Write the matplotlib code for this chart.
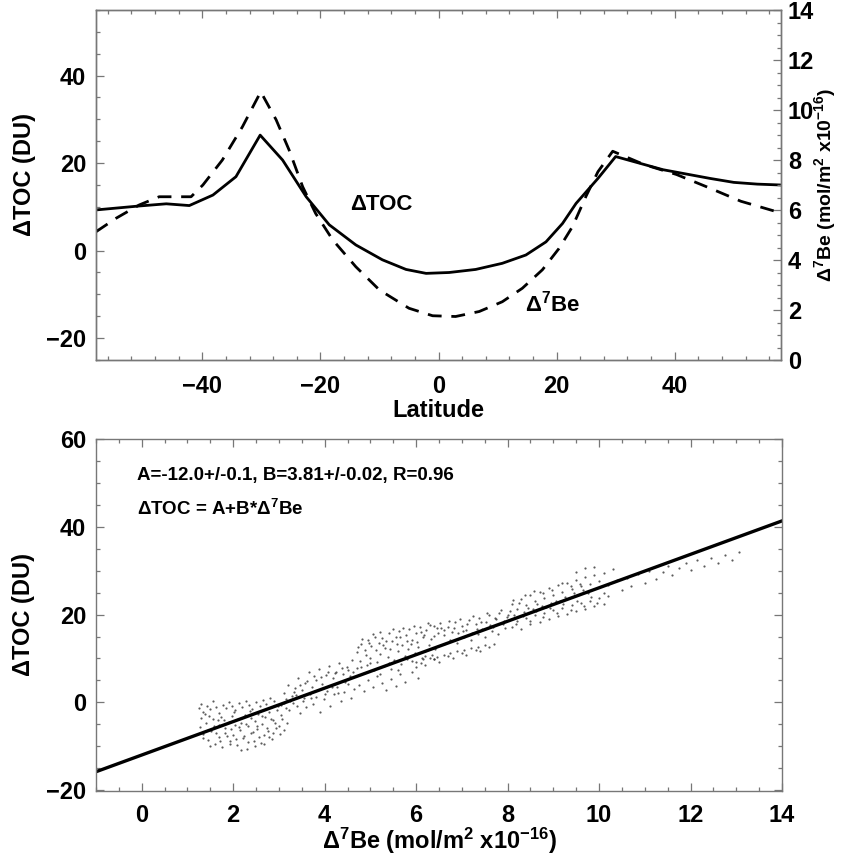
import matplotlib
matplotlib.use("Agg")
import matplotlib.pyplot as plt
from matplotlib.ticker import MultipleLocator

plt.rcParams['font.family'] = ['Liberation Sans', 'DejaVu Sans']
plt.rcParams['font.weight'] = 'bold'
plt.rcParams['axes.labelweight'] = 'bold'
plt.rcParams['mathtext.fontset'] = 'custom'
plt.rcParams['mathtext.rm'] = 'Liberation Sans:bold'
plt.rcParams['mathtext.default'] = 'rm'

# ---------------- data: top panel ----------------
lat_toc = [-58, -50.7, -46.1, -42.2, -38.2, -34.3, -30.2, -26.4, -22.4, -18.5, -14.0, -9.5, -5.5, -2.1, 1.8,
           6.3, 10.8, 14.8, 18.2, 21.0, 23.3, 27, 30, 34, 38, 42, 46, 50, 54, 58]
toc = [9.3, 10.2, 10.7, 10.3, 12.7, 16.9, 26.4, 20.7, 12.3, 5.9, 1.3, -2.1, -4.3, -5.2, -5.0,
       -4.3, -2.9, -1.0, 2.0, 6.2, 10.8, 16.5, 21.5, 20.0, 18.5, 17.5, 16.5, 15.6, 15.2, 15.0]

lat_be = [-58, -54.6, -50.7, -47.3, -41.9, -39.9, -36.6, -33.2, -30.1, -27.5, -25.3, -23.0, -20.8,
          -17.9, -14.0, -10.0, -5.0, -1.0, 2.9, 6.9, 10.8, 14.2, 17.6, 20.4, 22.7, 25.0, 27.0, 29.5,
          34.8, 40.3, 45.7, 51.2, 58]
be = [5.13, 5.67, 6.2, 6.53, 6.53, 7.0, 8.0, 9.33, 10.73, 9.61, 8.4, 6.93, 5.86,
      4.8, 3.73, 2.8, 2.07, 1.77, 1.74, 1.94, 2.33, 2.87, 3.61, 4.46, 5.34, 6.56, 7.53, 8.35,
      7.82, 7.42, 6.9, 6.35, 5.88]

lat_ticks = [-40, -20, 0, 20, 40]
toc_ticks_top = [-20, 0, 20, 40]
be_ticks = [0, 2, 4, 6, 8, 10, 12, 14]

# ---------------- data: bottom panel ----------------
fit_A = -12.0
fit_B = 3.81
fit_text = "A=-12.0+/-0.1, B=3.81+/-0.02, R=0.96"

scat_be = [
    1.25, 1.3, 1.35, 1.42, 1.5, 1.55, 1.62, 1.7, 1.78, 1.85, 1.9, 1.98, 2.05, 2.12, 2.2, 2.28, 2.35, 2.42, 2.5, 2.58, 2.65, 2.72, 2.8, 2.9,
    1.3, 1.4, 1.48, 1.58, 1.66, 1.74, 1.82, 1.9, 1.97, 2.04, 2.1, 2.18, 2.25, 2.33, 2.4, 2.48, 2.55, 2.62, 2.7, 2.78, 2.86, 2.95, 3.05, 3.15,
    1.35, 1.45, 1.52, 1.6, 1.68, 1.75, 1.83, 1.92, 2.0, 2.08, 2.15, 2.22, 2.3, 2.38, 2.45, 2.52, 2.6, 2.68, 2.76, 2.85, 2.94, 3.02, 3.1,
    1.28, 1.33, 1.38, 1.44, 1.5, 1.56, 1.63, 1.69, 1.72, 1.8, 1.86, 1.93, 1.96, 2.02, 2.07, 2.13, 2.17, 2.24, 2.27, 2.32, 2.37, 2.43, 2.47,
    2.53, 2.57, 2.63, 2.67, 2.73, 2.79, 2.83, 2.88, 2.92, 2.98, 3.0, 3.07, 3.12, 3.18,
    3.1, 3.2, 3.28, 3.35, 3.42, 3.5, 3.58, 3.65, 3.72, 3.8, 3.88, 3.95, 4.02, 4.1, 4.18, 4.25, 4.32, 4.4, 4.48, 4.55,
    3.05, 3.15, 3.22, 3.3, 3.38, 3.45, 3.52, 3.6, 3.68, 3.75, 3.82, 3.9, 3.98, 4.05, 4.12, 4.2, 4.28, 4.35, 4.42, 4.5, 4.58, 4.65,
    3.25, 3.33, 3.4, 3.47, 3.55, 3.62, 3.7, 3.77, 3.85, 3.92, 4.0, 4.07, 4.15, 4.22, 4.3, 4.37, 4.45, 4.52, 4.6, 4.62,
    4.7, 4.8, 4.88, 4.95, 5.02, 5.1, 5.18, 5.25, 5.32, 5.4, 5.48, 5.55, 5.62, 5.7, 5.78, 5.85, 5.92, 6.0, 6.08, 6.15, 6.22, 6.3, 6.38, 6.45, 6.52,
    4.7, 4.78, 4.85, 4.92, 5.0, 5.08, 5.15, 5.22, 5.3, 5.38, 5.45, 5.52, 5.6, 5.68, 5.75, 5.82, 5.9, 5.98, 6.05, 6.12, 6.2, 6.28, 6.35, 6.42,
    4.75, 4.85, 4.95, 5.05, 5.15, 5.25, 5.35, 5.45, 5.55, 5.65, 5.75, 5.9, 6.05,
    4.72, 4.82, 4.9, 4.98, 5.05, 5.12, 5.2, 5.28, 5.35, 5.42, 5.5, 5.58, 5.65, 5.72, 5.8, 5.88, 5.95, 6.02, 6.1, 6.18, 6.25, 6.33, 6.4, 6.48, 6.55,
    4.8, 5.0, 5.2, 5.4, 5.6, 5.8, 6.0, 6.2, 6.4,
    6.0, 6.15, 6.3, 6.45, 6.6, 6.75, 6.9, 7.05, 7.2, 7.35, 7.5, 6.2, 6.5, 6.8, 7.1, 7.4,
    6.6, 6.7, 6.78, 6.85, 6.92, 7.0, 7.08, 7.15, 7.22, 7.3, 7.38, 7.45, 7.52, 7.6, 7.68, 7.75, 7.82, 7.9, 7.98, 8.05,
    6.6, 6.75, 6.9, 7.05, 7.2, 7.35, 7.5, 7.65, 7.8, 7.95,
    6.62, 6.72, 6.82, 6.95, 7.02, 7.12, 7.25, 7.32, 7.42, 7.55, 7.62, 7.72, 7.85, 7.92, 8.0,
    6.1, 6.4, 6.7, 7.0, 7.3, 7.6, 7.7,
    8.1, 8.2, 8.3, 8.4, 8.5, 8.6, 8.7, 8.8, 8.9, 9.0, 9.1, 9.2, 9.3, 9.4, 9.5, 9.6, 9.7, 9.8, 9.9, 10.0,
    8.1, 8.2, 8.3, 8.4, 8.5, 8.6, 8.7, 8.8, 8.9, 9.0, 9.1, 9.2, 9.3, 9.4, 9.5, 9.6, 9.7, 9.8, 9.9, 10.0, 10.1, 10.2,
    8.15, 8.35, 8.55, 8.75, 8.95, 9.15, 9.35, 9.55, 9.75,
    8.12, 8.25, 8.38, 8.45, 8.58, 8.65, 8.78, 8.85, 8.98, 9.05, 9.18, 9.25, 9.38, 9.45, 9.58, 9.65,
    8.18, 8.33, 8.48, 8.62, 8.78, 8.92, 9.08, 9.22, 9.38, 9.52, 9.68, 9.82, 9.95, 10.1,
    10.1, 10.3, 10.2, 10.4, 10.5, 10.6, 10.7, 10.85, 11.0, 11.1, 11.25, 11.4, 11.5, 11.6, 11.75, 11.9, 12.0, 12.15, 12.3, 12.45, 12.6, 12.75, 12.9, 13.05, 9.5, 9.7, 9.9,
]
scat_toc = [
    -1.2, -0.4, -2.1, -0.8, -1.6, 0.2, -1.0, -2.4, -0.5, -1.3, 0.1, -0.9, -1.7, -0.2, -1.1, 0.4, -0.6, -1.5, 0.0, -0.8, 0.6, -0.3, 1.0, 0.3,
    -3.5, -4.8, -3.0, -5.5, -4.1, -3.3, -5.9, -4.4, -3.1, -5.2, -3.8, -4.6, -2.9, -5.4, -3.6, -4.3, -2.7, -5.0, -3.4, -2.2, -4.0, -1.8, -2.9, -1.4,
    -7.2, -8.6, -6.5, -9.4, -7.8, -10.2, -6.9, -8.9, -7.4, -9.8, -6.3, -8.1, -10.6, -7.0, -8.7, -6.1, -9.2, -7.5, -6.6, -8.3, -5.9, -7.1, -6.2,
    -5.6, -8.1, -2.7, -6.2, -9.9, -3.9, -7.0, -5.1, -8.8, -4.0, -7.6, -9.5, -6.0, -2.3, -8.4, -5.7, -10.9, -7.7, -4.9, -9.0, -2.0, -6.8, -10.0,
    -5.3, -7.9, -3.2, -9.6, -5.8, -8.0, -3.7, -6.9, -4.6, -0.9, -5.4, -3.9, -0.1, -4.6,
    2.1, 4.0, 1.5, 3.2, 5.6, 2.7, 4.4, 6.8, 3.6, 5.1, 7.5, 4.2, 6.2, 8.3, 5.5, 7.0, 9.0, 6.4, 8.1, 5.9,
    -0.5, 0.8, -1.8, -0.2, 1.6, -2.5, 0.4, -1.1, 2.0, -0.4, 1.2, -2.2, 0.7, 2.6, -0.9, 1.8, 3.5, 0.2, 2.4, 4.2, 1.1, 3.0,
    0.3, 2.4, -0.8, 3.9, 1.0, 4.9, 0.9, 6.0, 2.8, 5.7, 1.9, 7.0, 3.4, 6.6, 2.2, 7.8, 4.6, 7.3, 9.6, 6.8,
    11.5, 13.2, 12.0, 14.1, 12.8, 15.0, 13.5, 14.6, 12.4, 15.8, 13.9, 14.8, 16.3, 13.1, 15.4, 16.8, 14.2, 15.9, 17.2, 14.8, 16.4, 17.6, 15.2, 16.9, 18.0,
    7.8, 9.4, 6.6, 8.5, 10.2, 7.3, 9.1, 11.0, 8.2, 10.4, 7.6, 9.7, 11.6, 8.8, 10.5, 12.1, 9.4, 11.2, 12.6, 10.0, 11.8, 13.0, 10.7, 12.2,
    4.0, 2.5, 5.2, 3.6, 6.0, 4.4, 2.9, 5.4, 3.8, 6.5, 4.7, 7.0, 5.5,
    12.6, 14.4, 10.8, 13.6, 15.6, 11.9, 16.1, 13.0, 14.0, 12.1, 16.6, 13.4, 15.0, 17.0, 14.0, 13.3, 17.4, 13.8, 16.0, 15.4, 18.1, 14.4, 17.4, 15.7, 17.0,
    8.1, 8.9, 6.5, 9.0, 7.4, 9.9, 8.0, 10.6, 9.8,
    9.3, 9.8, 10.1, 10.4, 10.9, 11.2, 11.7, 12.0, 12.3, 12.7, 13.1, 8.6, 9.2, 10.2, 10.9, 11.6,
    15.3, 17.1, 16.0, 18.2, 15.7, 17.5, 16.4, 18.8, 15.9, 17.8, 19.3, 16.6, 18.4, 19.8, 17.2, 18.9, 20.3, 17.8, 19.5, 20.9,
    13.2, 14.1, 13.6, 15.0, 14.2, 15.6, 14.8, 16.3, 15.5, 17.0,
    16.4, 18.6, 17.0, 19.0, 16.2, 17.9, 19.6, 16.8, 18.2, 20.4, 17.6, 19.2, 21.0, 18.6, 20.0,
    9.0, 9.9, 10.6, 11.3, 12.0, 12.6, 13.4,
    22.5, 21.3, 23.6, 22.1, 24.5, 23.0, 25.2, 23.8, 26.0, 24.4, 26.8, 25.1, 27.3, 25.8, 27.9, 26.4, 28.5, 27.0, 29.1, 27.6,
    17.2, 18.6, 16.8, 19.2, 17.9, 19.8, 18.3, 20.4, 19.0, 21.0, 19.6, 21.5, 20.2, 22.1, 20.8, 22.6, 21.3, 23.2, 21.9, 23.7, 22.4, 24.2,
    19.8, 20.6, 21.2, 21.9, 22.6, 23.1, 23.8, 24.4, 25.0,
    23.4, 22.6, 24.4, 21.5, 25.3, 22.4, 24.9, 21.7, 25.7, 23.2, 27.2, 24.0, 26.5, 24.9, 27.0, 25.6,
    17.9, 19.7, 18.6, 20.9, 19.5, 21.4, 20.4, 22.4, 21.0, 23.0, 22.0, 24.0, 22.7, 24.8,
    29.5, 30.4, 26.8, 27.9, 25.6, 28.4, 26.5, 29.2, 27.3, 30.0, 28.1, 29.7, 31.0, 29.0, 30.5, 31.8, 30.2, 32.4, 31.1, 33.0, 31.8, 33.6, 32.5, 34.2, 29.8, 30.5, 30.9,
]

be_axis_ticks = [0, 2, 4, 6, 8, 10, 12, 14]
toc_ticks_bot = [-20, 0, 20, 40, 60]

# ---------------- figure ----------------
W, H = 842, 857
fig = plt.figure(figsize=(W / 100, H / 100), dpi=100)

def rect(l, r, t, b):
    return [l / W, 1 - b / H, (r - l) / W, (b - t) / H]

spine_col = '#777777'
tick_kw = dict(direction='in', color=spine_col, width=0.9)
LBL = 17

def style(ax):
    for s in ax.spines.values():
        s.set_color(spine_col)
        s.set_linewidth(1.0)

# top panel
ax1 = fig.add_axes(rect(96, 781, 10, 360))
ax1.plot(lat_toc, toc, color='black', lw=2.0, solid_joinstyle='round')
ax1.set_xlim(-58, 58)
ax1.set_ylim(-25, 55)
ax1.set_xticks(lat_ticks)
ax1.xaxis.set_minor_locator(MultipleLocator(4))
ax1.set_yticks(toc_ticks_top)
ax1.yaxis.set_minor_locator(MultipleLocator(5))
ax1.tick_params(which='major', length=6, labelsize=LBL, top=True, right=False, **tick_kw)
ax1.tick_params(which='minor', length=3, top=True, right=False, **tick_kw)
ax1.tick_params(axis='x', pad=11)
ax1.tick_params(axis='y', pad=7)
style(ax1)
ax1.set_xlabel('Latitude', fontsize=LBL)
ax1.xaxis.set_label_coords(0.5, -0.112)
ax1.set_ylabel('ΔTOC (DU)', fontsize=LBL, va='center')
ax1.yaxis.set_label_coords(-0.105, 0.53)
ax1.text(-9.7, 10.6, 'ΔTOC', fontsize=LBL - 1, ha='center', va='center')
ax1.text(19.4, -12, r'Δ$^{7}$Be', fontsize=LBL - 1, ha='center', va='center')

ax2 = ax1.twinx()
ax2.plot(lat_be, be, color='black', lw=2.0, dashes=(5, 3.5))
ax2.set_ylim(0, 14)
ax2.set_yticks(be_ticks)
ax2.yaxis.set_minor_locator(MultipleLocator(0.5))
ax2.tick_params(which='major', length=6, labelsize=LBL, pad=5, **tick_kw)
ax2.tick_params(which='minor', length=3, **tick_kw)
style(ax2)
ax2.set_ylabel(r'Δ$^{7}$Be (mol/m$^{2}$ x10$^{-16}$)', fontsize=14, rotation=90, va='center')
ax2.yaxis.set_label_coords(1.064, 0.5)

# bottom panel
ax3 = fig.add_axes(rect(96, 782, 439, 791))
ax3.scatter(scat_be, scat_toc, s=2.5, color='#333333', alpha=0.8, linewidths=0)
ax3.set_xlim(-1, 14)
ax3.set_ylim(-20.2, 60)
xl = ax3.get_xlim()
ax3.plot(list(xl), [fit_A + fit_B * v for v in xl], color='black', lw=2.4)
ax3.set_xlim(xl)
ax3.set_xticks(be_axis_ticks)
ax3.xaxis.set_minor_locator(MultipleLocator(0.5))
ax3.set_yticks(toc_ticks_bot)
ax3.yaxis.set_minor_locator(MultipleLocator(5))
ax3.tick_params(which='major', length=6, labelsize=LBL, top=True, right=True, **tick_kw)
ax3.tick_params(which='minor', length=3, top=True, right=True, **tick_kw)
ax3.tick_params(axis='x', pad=9)
ax3.tick_params(axis='y', pad=7)
style(ax3)
ax3.set_xlabel(r'Δ$^{7}$Be (mol/m$^{2}$ x10$^{-16}$)', fontsize=LBL)
ax3.xaxis.set_label_coords(0.5, -0.098)
ax3.set_ylabel('ΔTOC (DU)', fontsize=LBL, va='center')
ax3.yaxis.set_label_coords(-0.105, 0.5)
ax3.text(0.06, 0.895, fit_text, transform=ax3.transAxes, fontsize=13.5, ha='left', va='center')
ax3.text(0.06, 0.80, r'ΔTOC = A+B*Δ$^{7}$Be', transform=ax3.transAxes, fontsize=13.5, ha='left', va='center')

fig.savefig('out.png', dpi=100)
